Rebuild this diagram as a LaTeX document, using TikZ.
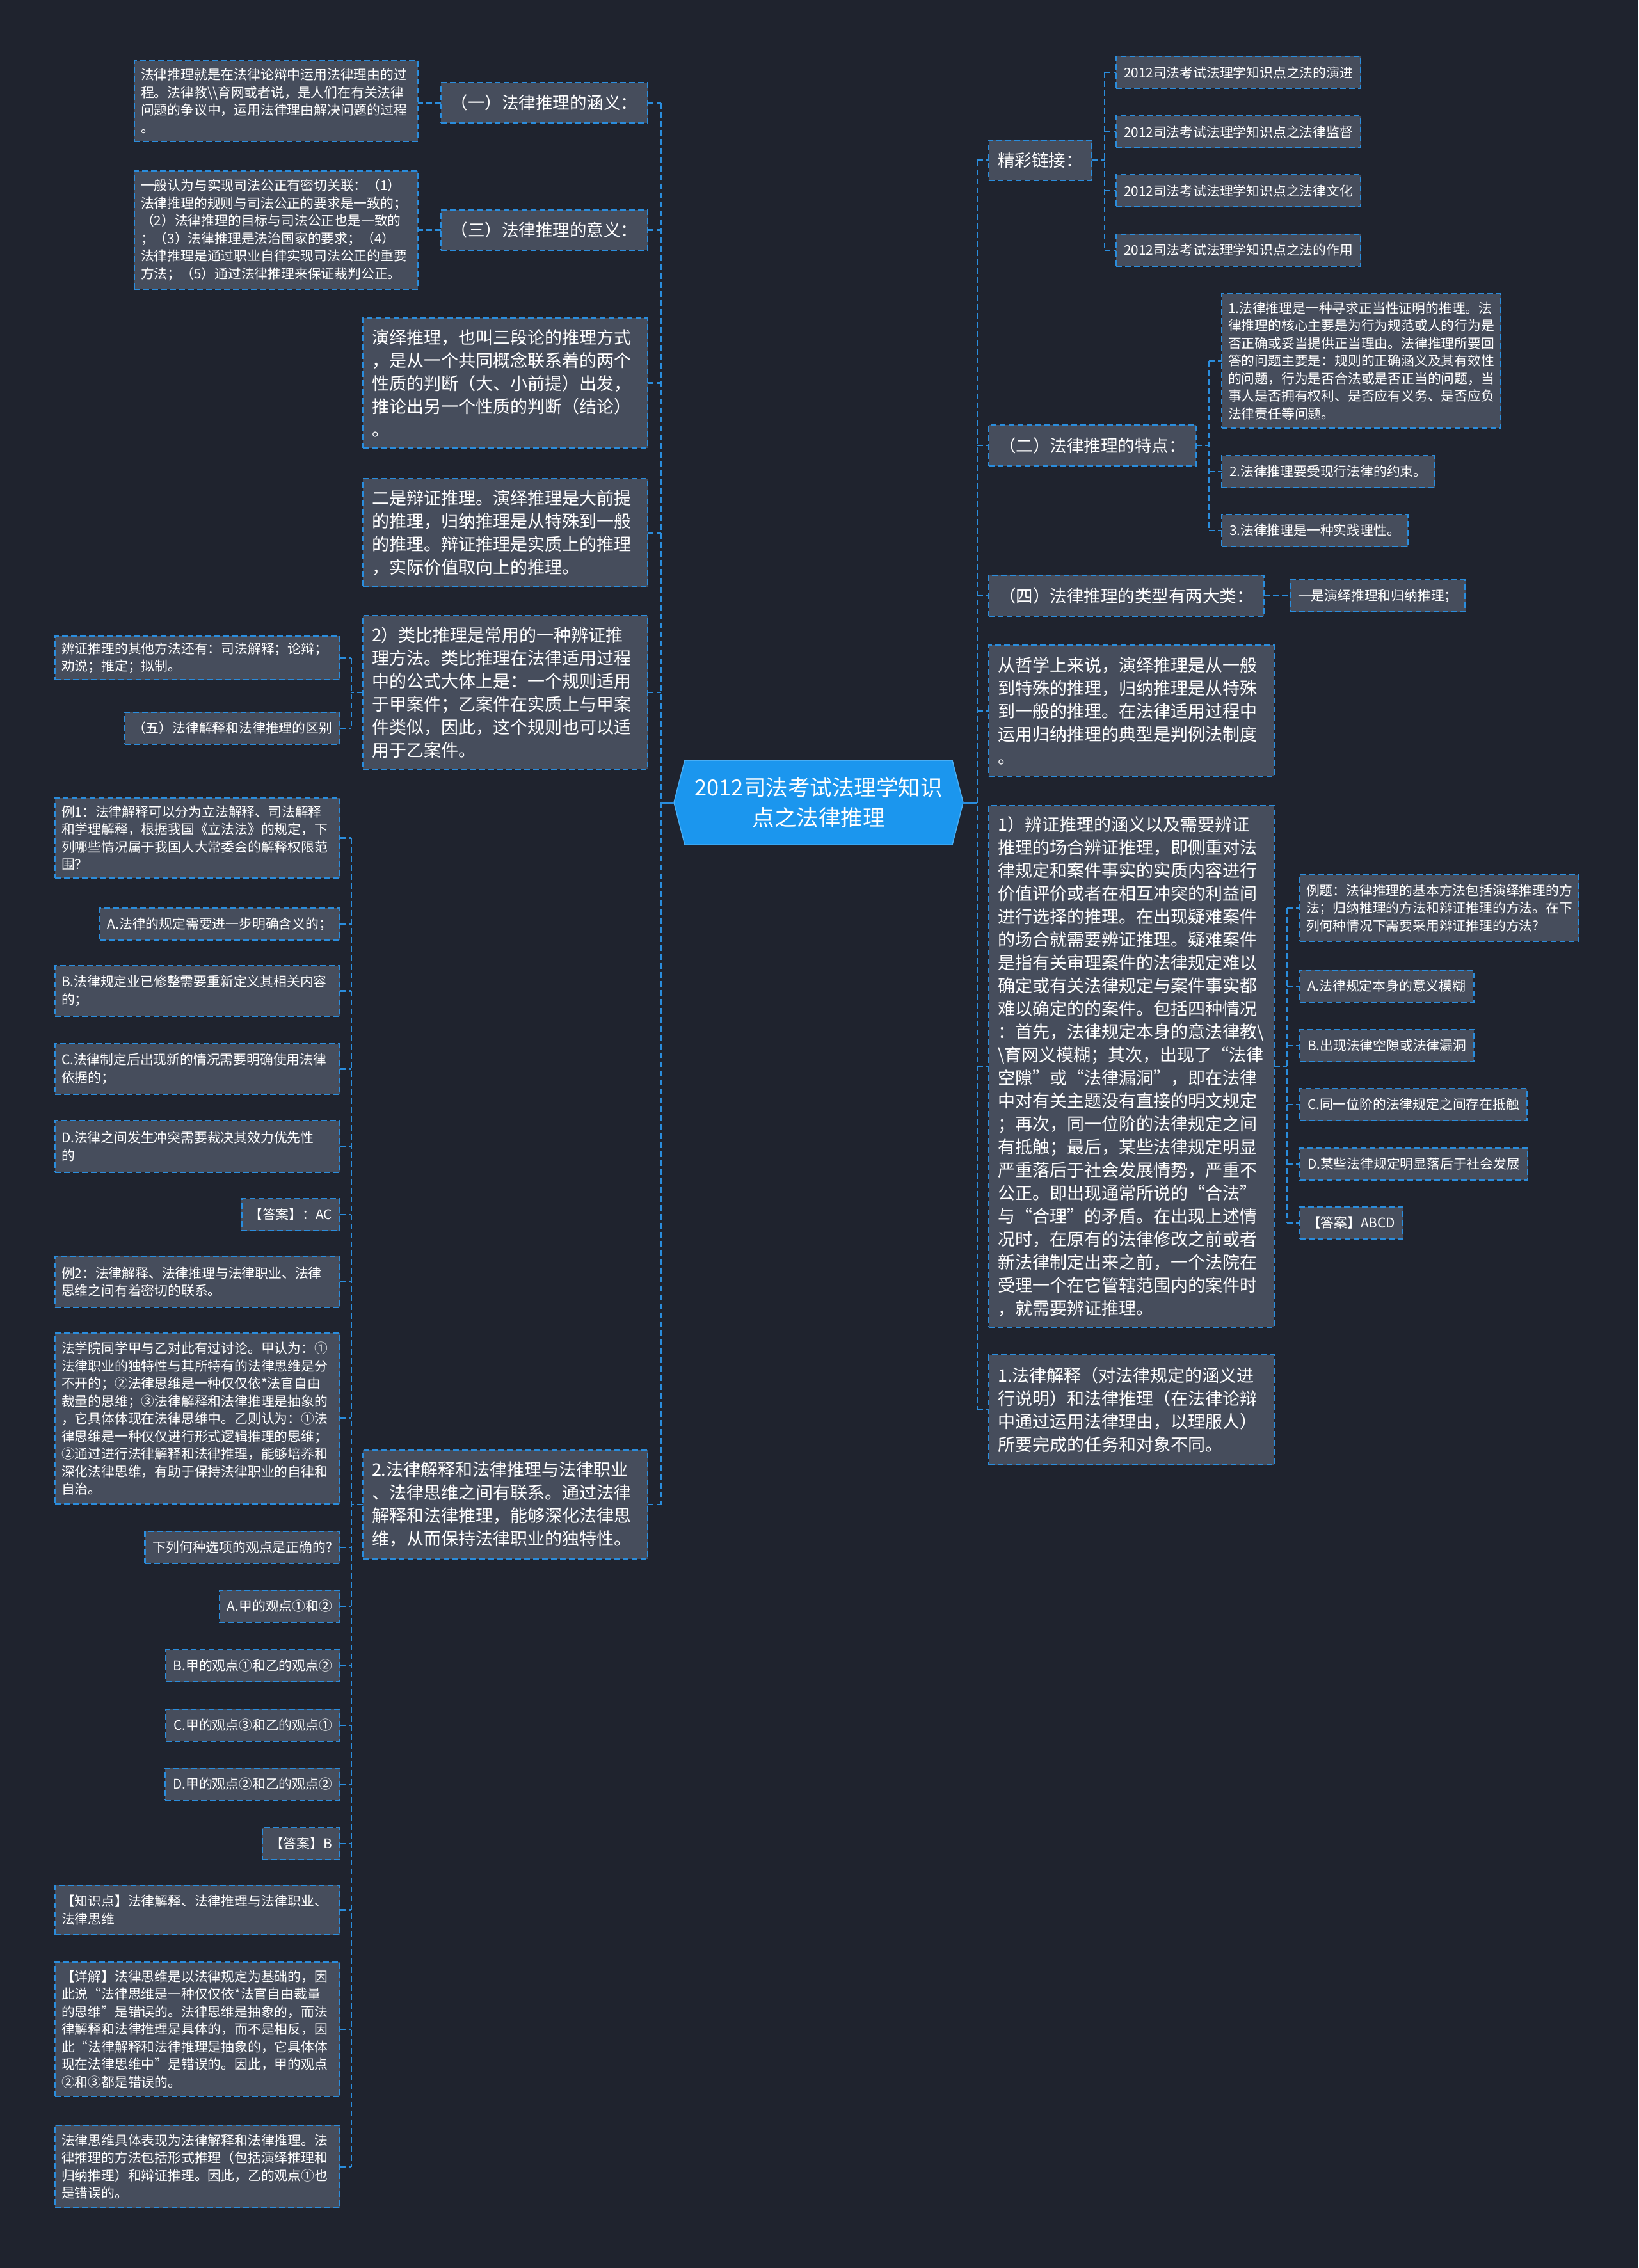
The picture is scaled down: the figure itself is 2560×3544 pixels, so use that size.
\documentclass[tikz,border=0pt]{standalone}
\usepackage{fontspec}
\setmainfont{Noto Sans CJK SC}
\usetikzlibrary{calc}
\definecolor{bgc}{HTML}{1F232E}
\definecolor{nfill}{HTML}{464D5C}
\definecolor{lblue}{HTML}{2A8DDD}
\definecolor{cfill}{HTML}{1B96EE}
\definecolor{cedge}{HTML}{48AEF5}
\tikzset{
 nd/.style={draw=lblue, fill=nfill, line width=2.5pt, dash pattern=on 9pt off 5pt, text=white, inner ysep=0pt, outer sep=0pt},
 sm/.style={nd, font=\fontsize{20.8}{27.5}\selectfont, inner xsep=10pt, align=left, anchor=north west},
 smone/.style={nd, font=\fontsize{20.8}{27.5}\selectfont, inner xsep=12pt, minimum height=50pt},
 md/.style={nd, font=\fontsize{26.5}{32}\selectfont, inner xsep=0pt, align=center, minimum height=63pt, anchor=north west},
 lg/.style={nd, font=\fontsize{27}{36}\selectfont, inner xsep=14pt, align=left, anchor=north west},
 conn/.style={draw=lblue, line width=2.5pt, dash pattern=on 9pt off 5pt},
 solidc/.style={draw=lblue, line width=3pt},
}
\begin{document}
\begin{tikzpicture}[x=1pt,y=-1pt]
\useasboundingbox (0,0) rectangle (2560,3544);
\fill[bgc] (0,0) rectangle (2560,3544);

% ---------- center ----------
\coordinate (cc) at (1279,1254);
\coordinate (cw) at ($(cc)+(-226,0)$);
\coordinate (ce) at ($(cc)+(226,0)$);
\fill[cfill, draw=cedge, line width=1.5pt] ($(cc)+(-209,-66)$) -- ($(cc)+(209,-66)$) -- (ce) -- ($(cc)+(209,66)$) -- ($(cc)+(-209,66)$) -- (cw) -- cycle;
\node[font=\fontsize{34.5}{47}\selectfont, text=white, align=center] (c) at (cc) {2012司法考试法理学知识\\点之法律推理};

% ---------- left level 1 ----------
\node[md, text width=323pt] (L1) at (689,129) {（一）法律推理的涵义：};
\node[md, text width=323pt] (L2) at (689,328) {（三）法律推理的意义：};
\node[lg, text width=417pt, minimum height=203pt] (L3) at (567,497) {演绎推理，也叫三段论的推理方式\\，是从一个共同概念联系着的两个\\性质的判断（大、小前提）出发，\\推论出另一个性质的判断（结论）\\。};
\node[lg, text width=417pt, minimum height=169pt] (L4) at (567,748) {二是辩证推理。演绎推理是大前提\\的推理，归纳推理是从特殊到一般\\的推理。辩证推理是实质上的推理\\，实际价值取向上的推理。};
\node[lg, text width=417pt, minimum height=240pt] (L5) at (567,962) {2）类比推理是常用的一种辨证推\\理方法。类比推理在法律适用过程\\中的公式大体上是：一个规则适用\\于甲案件；乙案件在实质上与甲案\\件类似，因此，这个规则也可以适\\用于乙案件。};
\node[lg, text width=417pt, minimum height=170pt] (L6) at (567,2266) {2.法律解释和法律推理与法律职业\\、法律思维之间有联系。通过法律\\解释和法律推理，能够深化法律思\\维，从而保持法律职业的独特性。};

% ---------- left level 2 ----------
\node[sm, text width=423pt, minimum height=126pt] (TL1) at (210,95) {法律推理就是在法律论辩中运用法律理由的过\\程。法律教\textbackslash\textbackslash{}育网或者说，是人们在有关法律\\问题的争议中，运用法律理由解决问题的过程\\。};
\node[sm, text width=423pt, minimum height=185pt] (TL2) at (210,267) {一般认为与实现司法公正有密切关联：（1）\\法律推理的规则与司法公正的要求是一致的；\\（2）法律推理的目标与司法公正也是一致的\\；（3）法律推理是法治国家的要求；（4）\\法律推理是通过职业自律实现司法公正的重要\\方法；（5）通过法律推理来保证裁判公正。};

\node[sm, text width=425pt, minimum height=68pt] (L5a) at (86,994) {辨证推理的其他方法还有：司法解释；论辩；\\劝说；推定；拟制。};
\node[smone, anchor=east] (L5b) at (531,1138) {（五）法律解释和法律推理的区别};

\node[sm, text width=425pt, minimum height=125pt] (q1) at (86,1247) {例1：法律解释可以分为立法解释、司法解释\\和学理解释，根据我国《立法法》的规定，下\\列哪些情况属于我国人大常委会的解释权限范\\围？};
\node[smone, anchor=east] (q1a) at (531,1444) {A.法律的规定需要进一步明确含义的；};
\node[sm, text width=425pt, minimum height=79pt] (q1b) at (86,1509) {B.法律规定业已修整需要重新定义其相关内容\\的；};
\node[sm, text width=425pt, minimum height=79pt] (q1c) at (86,1631) {C.法律制定后出现新的情况需要明确使用法律\\依据的；};
\node[sm, text width=425pt, minimum height=81pt] (q1d) at (86,1751) {D.法律之间发生冲突需要裁决其效力优先性\\的};
\node[smone, anchor=east] (q1ans) at (531,1898) {【答案】：AC};
\node[sm, text width=425pt, minimum height=80pt] (q2) at (86,1963) {例2：法律解释、法律推理与法律职业、法律\\思维之间有着密切的联系。};
\node[sm, text width=425pt, minimum height=267pt] (q2t) at (86,2083) {法学院同学甲与乙对此有过讨论。甲认为：①\\法律职业的独特性与其所特有的法律思维是分\\不开的；②法律思维是一种仅仅依*法官自由\\裁量的思维；③法律解释和法律推理是抽象的\\，它具体体现在法律思维中。乙则认为：①法\\律思维是一种仅仅进行形式逻辑推理的思维；\\②通过进行法律解释和法律推理，能够培养和\\深化法律思维，有助于保持法律职业的自律和\\自治。};
\node[smone, anchor=east] (q2q) at (531,2418) {下列何种选项的观点是正确的?};
\node[smone, anchor=east] (q2a) at (531,2510) {A.甲的观点①和②};
\node[smone, anchor=east] (q2b) at (531,2603) {B.甲的观点①和乙的观点②};
\node[smone, anchor=east] (q2c) at (531,2696) {C.甲的观点③和乙的观点①};
\node[smone, anchor=east] (q2d) at (531,2788) {D.甲的观点②和乙的观点②};
\node[smone, anchor=east] (q2ans) at (531,2881) {【答案】B};
\node[sm, text width=425pt, minimum height=77pt] (kp) at (86,2946) {【知识点】法律解释、法律推理与法律职业、\\法律思维};
\node[sm, text width=425pt, minimum height=210pt] (det) at (86,3066) {【详解】法律思维是以法律规定为基础的，因\\此说“法律思维是一种仅仅依*法官自由裁量\\的思维”是错误的。法律思维是抽象的，而法\\律解释和法律推理是具体的，而不是相反，因\\此“法律解释和法律推理是抽象的，它具体体\\现在法律思维中”是错误的。因此，甲的观点\\②和③都是错误的。};
\node[sm, text width=425pt, minimum height=129pt] (fin) at (86,3321) {法律思维具体表现为法律解释和法律推理。法\\律推理的方法包括形式推理（包括演绎推理和\\归纳推理）和辩证推理。因此，乙的观点①也\\是错误的。};

% ---------- right level 1 ----------
\node[md, text width=161pt] (R1) at (1545,219) {精彩链接：};
\node[md, text width=324pt, minimum height=64pt] (R2) at (1545,664) {（二）法律推理的特点：};
\node[md, text width=430pt, minimum height=64pt] (R3) at (1545,899) {（四）法律推理的类型有两大类：};
\node[lg, text width=418pt, minimum height=205pt] (R4) at (1545,1008) {从哲学上来说，演绎推理是从一般\\到特殊的推理，归纳推理是从特殊\\到一般的推理。在法律适用过程中\\运用归纳推理的典型是判例法制度\\。};
\node[lg, text width=418pt, minimum height=815pt] (R5) at (1545,1259) {1）辨证推理的涵义以及需要辨证\\推理的场合辨证推理，即侧重对法\\律规定和案件事实的实质内容进行\\价值评价或者在相互冲突的利益间\\进行选择的推理。在出现疑难案件\\的场合就需要辨证推理。疑难案件\\是指有关审理案件的法律规定难以\\确定或有关法律规定与案件事实都\\难以确定的的案件。包括四种情况\\：首先，法律规定本身的意法律教\textbackslash\\\textbackslash{}育网义模糊；其次，出现了“法律\\空隙”或“法律漏洞”，即在法律\\中对有关主题没有直接的明文规定\\；再次，同一位阶的法律规定之间\\有抵触；最后，某些法律规定明显\\严重落后于社会发展情势，严重不\\公正。即出现通常所说的“合法”\\与“合理”的矛盾。在出现上述情\\况时，在原有的法律修改之前或者\\新法律制定出来之前，一个法院在\\受理一个在它管辖范围内的案件时\\，就需要辨证推理。};
\node[lg, text width=418pt, minimum height=172pt] (R6) at (1545,2117) {1.法律解释（对法律规定的涵义进\\行说明）和法律推理（在法律论辩\\中通过运用法律理由，以理服人）\\所要完成的任务和对象不同。};

% ---------- right level 2 ----------
\node[smone, anchor=west] (lk1) at (1744,113) {2012司法考试法理学知识点之法的演进};
\node[smone, anchor=west] (lk2) at (1744,206) {2012司法考试法理学知识点之法律监督};
\node[smone, anchor=west] (lk3) at (1744,298) {2012司法考试法理学知识点之法律文化};
\node[smone, anchor=west] (lk4) at (1744,391) {2012司法考试法理学知识点之法的作用};

\node[sm, text width=416pt, minimum height=210pt] (p1) at (1909,459) {1.法律推理是一种寻求正当性证明的推理。法\\律推理的核心主要是为行为规范或人的行为是\\否正确或妥当提供正当理由。法律推理所要回\\答的问题主要是：规则的正确涵义及其有效性\\的问题，行为是否合法或是否正当的问题，当\\事人是否拥有权利、是否应有义务、是否应负\\法律责任等问题。};
\node[smone, anchor=west] (p2) at (1909,737) {2.法律推理要受现行法律的约束。};
\node[smone, anchor=west] (p3) at (1909,829) {3.法律推理是一种实践理性。};

\node[smone, anchor=west] (t1) at (2016,931) {一是演绎推理和归纳推理；};

\node[sm, text width=416pt, minimum height=104pt] (e0) at (2031,1367) {例题：法律推理的基本方法包括演绎推理的方\\法；归纳推理的方法和辩证推理的方法。在下\\列何种情况下需要采用辩证推理的方法?};
\node[smone, anchor=west] (e1) at (2031,1541) {A.法律规定本身的意义模糊};
\node[smone, anchor=west] (e2) at (2031,1634) {B.出现法律空隙或法律漏洞};
\node[smone, anchor=west] (e3) at (2031,1726) {C.同一位阶的法律规定之间存在抵触};
\node[smone, anchor=west] (e4) at (2031,1819) {D.某些法律规定明显落后于社会发展};
\node[smone, anchor=west] (e5) at (2031,1911) {【答案】ABCD};

% ---------- connectors ----------
\coordinate (spL) at (1033,1254);
\coordinate (spR) at (1527,1254);
\draw[solidc] (cw) -- (spL);
\draw[solidc] (ce) -- (spR);
\draw[conn] (spL |- L1.east) -- (spL |- L6.east);
\foreach \n in {L1,L2,L3,L4,L5,L6} \draw[conn] (\n.east) -- (spL |- \n.east);
\draw[conn] (spR |- R1.west) -- (spR |- R6.west);
\foreach \n in {R1,R2,R3,R4,R5,R6} \draw[conn] (spR |- \n.west) -- (\n.west);

\draw[conn] (L1.west) -- (L1.west -| TL1.east);
\draw[conn] (L2.west) -- (L2.west -| TL2.east);

\coordinate (k5) at (549,1082);
\draw[conn] (L5.west) -- (L5.west -| k5);
\draw[conn] (k5 |- L5a.east) -- (k5 |- L5b.east);
\foreach \n in {L5a,L5b} \draw[conn] (\n.east) -- (k5 |- \n.east);

\coordinate (k6) at (549,2352);
\draw[conn] (L6.west) -- (L6.west -| k6);
\draw[conn] (k6 |- q1.east) -- (k6 |- fin.east);
\foreach \n in {q1,q1a,q1b,q1c,q1d,q1ans,q2,q2t,q2q,q2a,q2b,q2c,q2d,q2ans,kp,det,fin} \draw[conn] (\n.east) -- (k6 |- \n.east);

\coordinate (kr1) at (1726,251);
\draw[conn] (R1.east) -- (R1.east -| kr1);
\draw[conn] (kr1 |- lk1.west) -- (kr1 |- lk4.west);
\foreach \n in {lk1,lk2,lk3,lk4} \draw[conn] (kr1 |- \n.west) -- (\n.west);

\coordinate (kr2) at (1889,696);
\draw[conn] (R2.east) -- (R2.east -| kr2);
\draw[conn] (kr2 |- p1.west) -- (kr2 |- p3.west);
\foreach \n in {p1,p2,p3} \draw[conn] (kr2 |- \n.west) -- (\n.west);

\draw[conn] (R3.east) -- (R3.east -| t1.west);

\coordinate (kr5) at (2011,1666);
\draw[conn] (R5.east) -- (R5.east -| kr5);
\draw[conn] (kr5 |- e0.west) -- (kr5 |- e5.west);
\foreach \n in {e0,e1,e2,e3,e4,e5} \draw[conn] (kr5 |- \n.west) -- (\n.west);
\end{tikzpicture}
\end{document}
